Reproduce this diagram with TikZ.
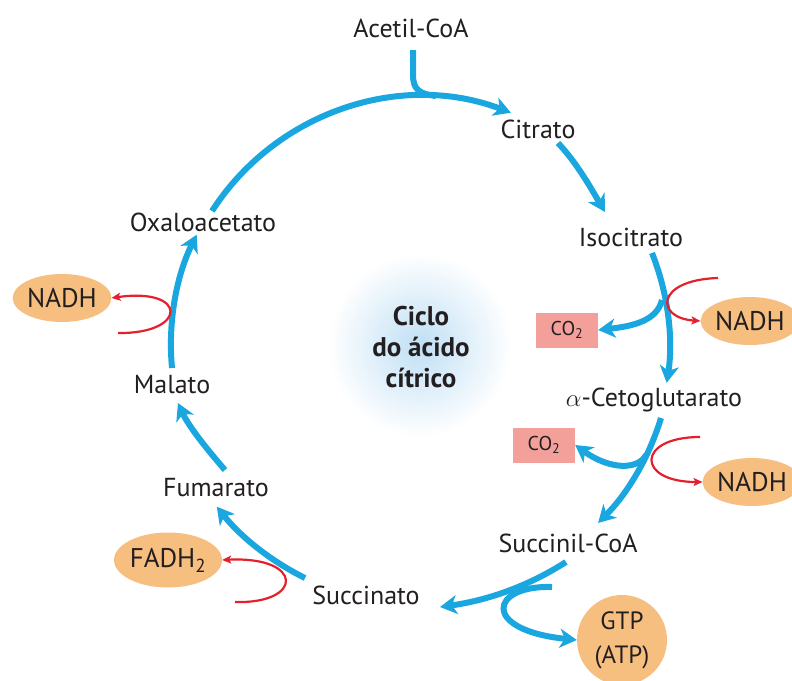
\documentclass[tikz,border=0pt]{standalone}
\usepackage{fontspec}
\setmainfont{PT Sans}
\usetikzlibrary{arrows.meta,shapes.geometric}
\definecolor{cblue}{HTML}{1AA7E0}
\definecolor{cred}{HTML}{E3202B}
\definecolor{corange}{HTML}{F6BF80}
\definecolor{csalmon}{HTML}{F3A09B}
\definecolor{ctext}{HTML}{231F20}
\definecolor{cglow}{HTML}{BFDFF4}
\begin{document}
\begin{tikzpicture}[x=1pt,y=-1pt,
  lbl/.style={font=\fontsize{26}{28}\selectfont, text=ctext, inner sep=0pt},
  flow/.style={draw=cblue, line width=6pt, -{Stealth[length=17pt,width=19pt,inset=5pt]}},
  flowline/.style={draw=cblue, line width=6pt},
  redarr/.style={draw=cred, line width=2.2pt, -{Stealth[length=9pt,width=8pt,inset=2pt]}},
  prod/.style={ellipse, fill=corange, minimum width=98pt, minimum height=48pt, inner sep=0pt, font=\fontsize{27}{29}\selectfont, text=ctext},
  cobox/.style={rectangle, fill=csalmon, minimum width=62pt, minimum height=35pt, inner sep=0pt, font=\fontsize{20}{22}\selectfont, text=ctext}
]
\useasboundingbox (0,0) rectangle (792,680);
\fill[white] (0,0) rectangle (792,680);
% glow
\shade[inner color=cglow, outer color=white] (420,345) circle (92);
\node[font=\bfseries\fontsize{27}{31}\selectfont, text=ctext, align=center] (centre) at (421,347) {Ciclo\\do ácido\\cítrico};

% labels
\node[lbl] (acetil) at (411,28) {Acetil-CoA};
\node[lbl] (citrato) at (538,129) {Citrato};
\node[lbl] (isocit) at (631,237) {Isocitrato};
\node[lbl] (aceto) at (654,400) {$\alpha$-Cetoglutarato};
\node[lbl] (succoa) at (568,543) {Succinil-CoA};
\node[lbl] (succ) at (366,595) {Succinato};
\node[lbl] (fum) at (216,488) {Fumarato};
\node[lbl] (mal) at (172,385) {Malato};
\node[lbl] (oxa) at (203,222) {Oxaloacetato};

% products
\node[prod] (nadh1) at (62,298) {NADH};
\node[prod] (nadh2) at (750,321) {NADH};
\node[prod] (nadh3) at (752,482) {NADH};
\node[prod, minimum width=103pt, minimum height=55pt] (fadh) at (168,560) {FADH\textsubscript{2}};
\node[circle, fill=corange, minimum size=90pt, inner sep=0pt, align=center, font=\fontsize{25}{34}\selectfont, text=ctext] (gtp) at (622,640) {GTP\\(ATP)};
\node[cobox] (co2a) at (567,330) {CO\textsubscript{2}};
\node[cobox] (co2b) at (544,445) {CO\textsubscript{2}};

% coordinates
\coordinate (oxaout) at (212,211);
\coordinate (acin) at (413,50);
\coordinate (citout) at (558,143);
\coordinate (isoin) at (605,212);
\coordinate (isoout) at (652,253);
\coordinate (br1) at (662,300);
\coordinate (akout) at (661,418);
\coordinate (br2) at (646,455);
\coordinate (scout) at (566,562);
\coordinate (gtpst) at (552,587);
\coordinate (suout) at (305,578);
\coordinate (fuout) at (225,470);
\coordinate (fuin) at (178,403);
\coordinate (maout) at (172,368);

% main cycle
\draw[flow] (oxaout) arc[start angle=-147.2, end angle=-69.2, radius=250];
\draw[flowline] (acin) -- (413,75) .. controls (413,90) and (420,94) .. (436,96);
\draw[flow] (citout) .. controls (577,163) and (592,190) .. (isoin);
\draw[flow] (isoout) arc[start angle=-21.6, end angle=8.7, radius=250];
\draw[flow] (br1) .. controls (657,320) and (635,326) .. (co2a.east);
\draw[flow] (akout) arc[start angle=16.9, end angle=45, radius=252];
\draw[flow] (br2) .. controls (638,470) and (610,470) .. (co2b.east);
\draw[flow] (scout) .. controls (530,585) and (490,600) .. (440,607);
\draw[flow] (gtpst) .. controls (490,585) and (480,630) .. (gtp.west);
\draw[flow] (suout) arc[start angle=116.3, end angle=141.6, radius=259];
\draw[flow] (fuout) .. controls (205,447) and (188,425) .. (fuin);
\draw[flow] (maout) arc[start angle=174.7, end angle=206.3, radius=249];

% red arrows
\draw[redarr] (718,278) .. controls (655,280) and (655,318) .. (nadh2.west);
\draw[redarr] (700,437) .. controls (636,437) and (636,482) .. (nadh3.west);
\draw[redarr] (235,602) .. controls (304,604) and (304,556) .. (fadh.east);
\draw[redarr] (118,333) .. controls (188,334) and (188,287) .. (nadh1.east);
\end{tikzpicture}
\end{document}
